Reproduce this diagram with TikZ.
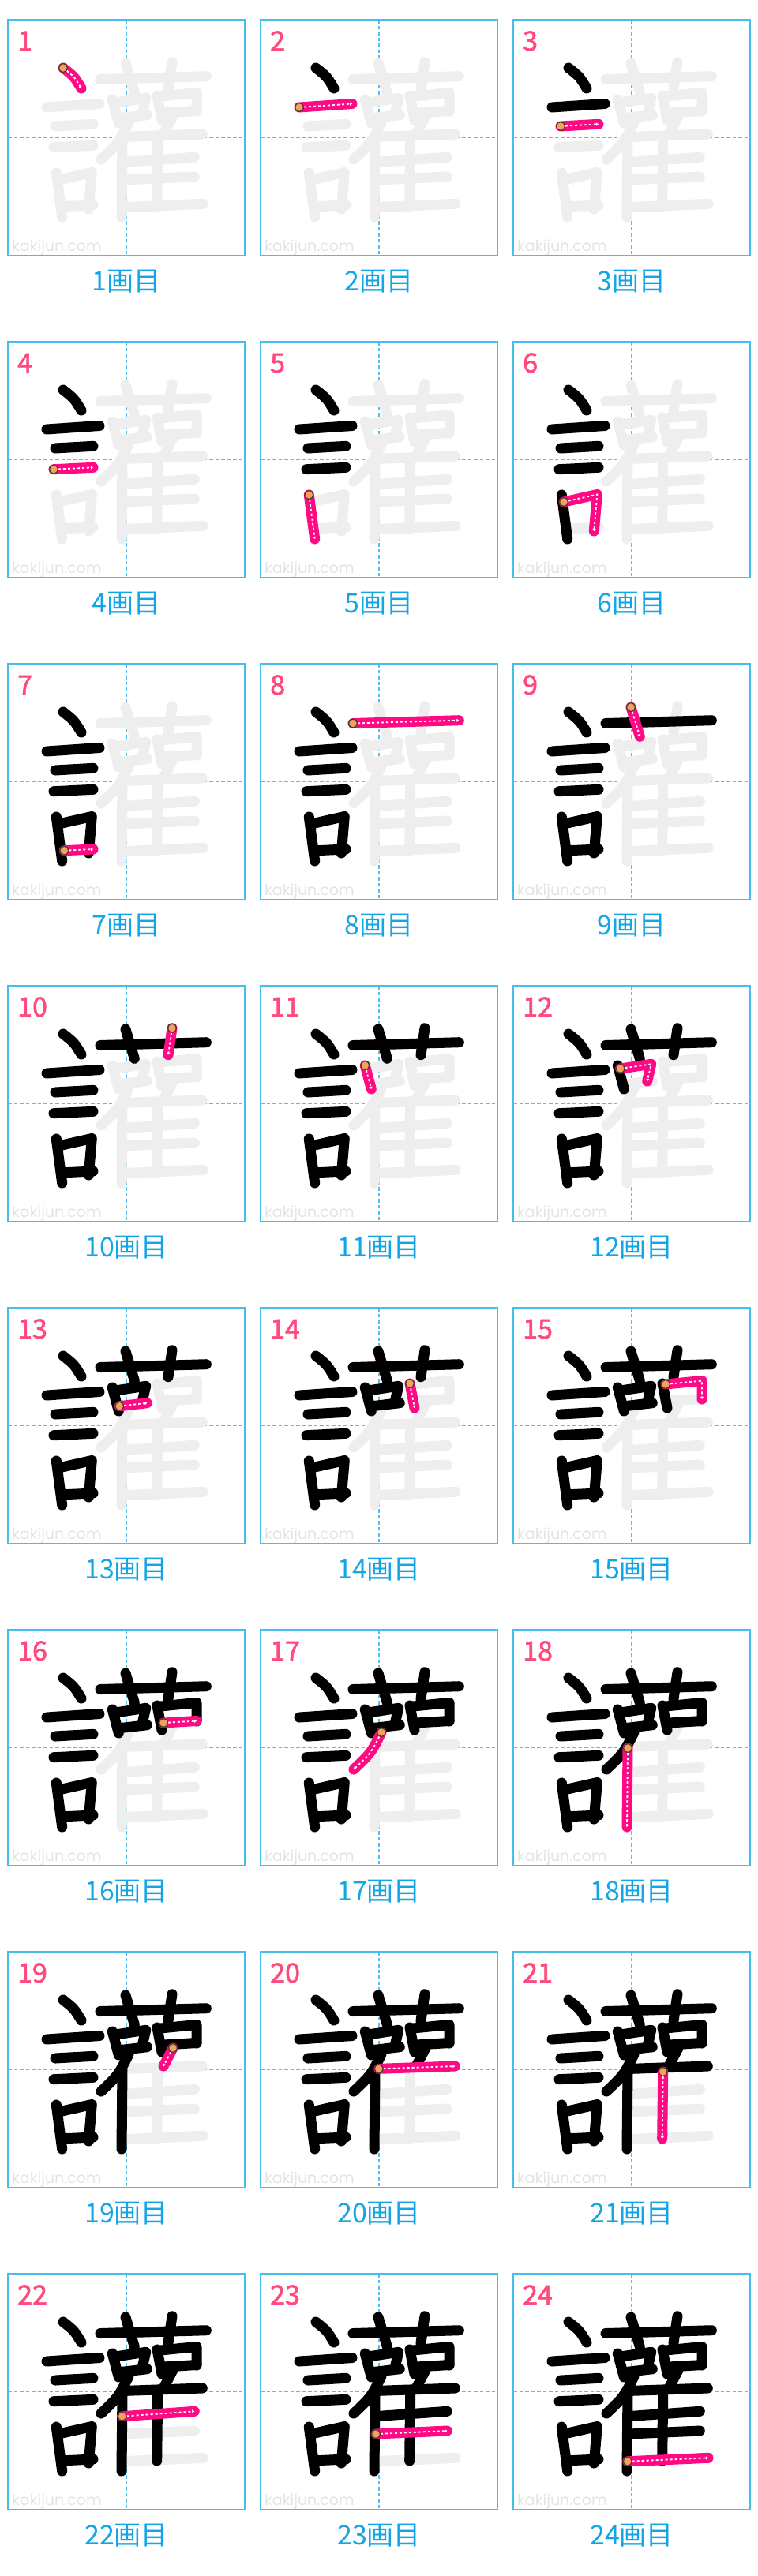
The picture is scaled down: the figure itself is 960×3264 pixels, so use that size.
\documentclass[tikz,border=0pt]{standalone}
\usepackage{fontspec}
\newfontfamily\jpfont{Noto Sans CJK JP}
\newfontfamily\numfont{Noto Sans CJK JP}[FakeBold=1.6]
\newfontfamily\wmfont{Poppins}
\usetikzlibrary{arrows.meta}
\definecolor{kgray}{HTML}{EEEEEE}
\definecolor{kpink}{HTML}{FF0A84}
\definecolor{numpink}{HTML}{FF4A7D}
\definecolor{labcyan}{HTML}{12A6E6}
\definecolor{boxblue}{HTML}{45BDEE}
\definecolor{guideblue}{HTML}{4CC2F4}
\definecolor{wmgray}{HTML}{E4E4E4}
\definecolor{dotorange}{HTML}{F6A05A}
\definecolor{dotedge}{HTML}{4A3A30}
\newcommand\defsk[3]{\expandafter\def\csname sk#1\endcsname{#2}\expandafter\def\csname sks#1\endcsname{#3}}
\defsk{1}{(70,61) .. controls (84,72) .. (93,87)}{(70,61)}
\defsk{2}{(49,111) -- (116,106.5)}{(49,111)}
\defsk{3}{(60,135) -- (108,132.3)}{(60,135)}
\defsk{4}{(58,161.7) -- (108,159.3)}{(58,161.7)}
\defsk{5}{(61.3,194) -- (68.7,250)}{(61.3,194)}
\defsk{6}{(64,203) -- (106.3,193.5) -- (102.3,240)}{(64,203)}
\defsk{7}{(71.3,236.7) -- (108,235)}{(71.3,236.7)}
\defsk{8}{(117,75.5) -- (251.3,71.7)}{(117,75.5)}
\defsk{9}{(149,55) -- (160.3,92.3)}{(149,55)}
\defsk{10}{(208,53.7) -- (203,87.7)}{(208,53.7)}
\defsk{11}{(132.3,101) -- (140.3,131)}{(132.3,101)}
\defsk{12}{(135.7,105) -- (174.7,99.3) -- (169.7,121)}{(135.7,105)}
\defsk{13}{(141.3,124.7) -- (176.3,120.7)}{(141.3,124.7)}
\defsk{14}{(189,96) -- (195,127)}{(189,96)}
\defsk{15}{(193,97) -- (239,92.5) -- (239,116)}{(193,97)}
\defsk{16}{(197,118) -- (239,115.5)}{(197,118)}
\defsk{17}{(153,130) .. controls (140,156) .. (118,177)}{(153,130)}
\defsk{18}{(145,150) -- (144,250)}{(145,150)}
\defsk{19}{(209,122) -- (197,145)}{(209,122)}
\defsk{20}{(149.7,148.3) -- (246.3,145)}{(149.7,148.3)}
\defsk{21}{(189.7,152) -- (188.7,237)}{(189.7,152)}
\defsk{22}{(144.7,180.7) -- (236.3,174.3)}{(144.7,180.7)}
\defsk{23}{(146,203) -- (236.3,199)}{(146,203)}
\defsk{24}{(144.7,237.7) -- (247,233.3)}{(144.7,237.7)}
\tikzset{
  strokebase/.style={line width=13pt, line cap=round, line join=round},
  graystroke/.style={strokebase, draw=kgray},
  blackstroke/.style={strokebase, draw=black},
  pinkstroke/.style={strokebase, draw=kpink},
  whitedash/.style={draw=white, line width=1.8pt, dash pattern=on 3pt off 3pt, -{Triangle[length=3pt,width=4pt]}},
  startdot/.style={circle, fill=dotorange, draw=dotedge, line width=1.3pt, minimum size=11pt, inner sep=0pt},
  boxline/.style={draw=boxblue, line width=1.8pt},
  guide/.style={draw=guideblue, line width=1.6pt, dash pattern=on 4.5pt off 3pt},
  numtext/.style={anchor=base west, inner sep=0pt, text=numpink, font=\numfont\fontsize{34}{34}\selectfont},
  labtext/.style={anchor=base, inner sep=0pt, text=labcyan, font=\jpfont\fontsize{34}{34}\selectfont},
  wmtext/.style={anchor=base west, inner sep=0pt, text=wmgray, font=\wmfont\fontsize{19}{19}\selectfont}
}
\begin{document}
\begin{tikzpicture}[x=1pt,y=-1pt]
\useasboundingbox[fill=white] (0,0) rectangle (960,3264);
\foreach \n in {1,...,24}{
  \pgfmathtruncatemacro\cc{mod(\n-1,3)}
  \pgfmathtruncatemacro\rr{(\n-1)/3}
  \begin{scope}[shift={(10+320*\cc,25+408*\rr)}]
    \draw[guide] (150,0) -- (150,299);
    \draw[guide] (0,149.5) -- (300,149.5);
    \draw[boxline] (0,0) rectangle (300,299);
    \node[wmtext] (wm\n) at (5,293) {kakijun.com};
    \node[numtext] (num\n) at (12,39) {\n};
    \node[labtext] (lab\n) at (150,343) {{\n}画目};
    \foreach \k in {1,...,24}{
      \ifnum\k>\n\relax
        \draw[graystroke] \csname sk\k\endcsname;
      \fi
    }
    \foreach \k in {1,...,24}{
      \ifnum\k<\n\relax
        \draw[blackstroke] \csname sk\k\endcsname;
      \fi
    }
    \draw[pinkstroke] \csname sk\n\endcsname;
    \draw[whitedash] \csname sk\n\endcsname;
    \node[startdot] (sd\n) at \csname sks\n\endcsname {};
  \end{scope}
}
\end{tikzpicture}
\end{document}
